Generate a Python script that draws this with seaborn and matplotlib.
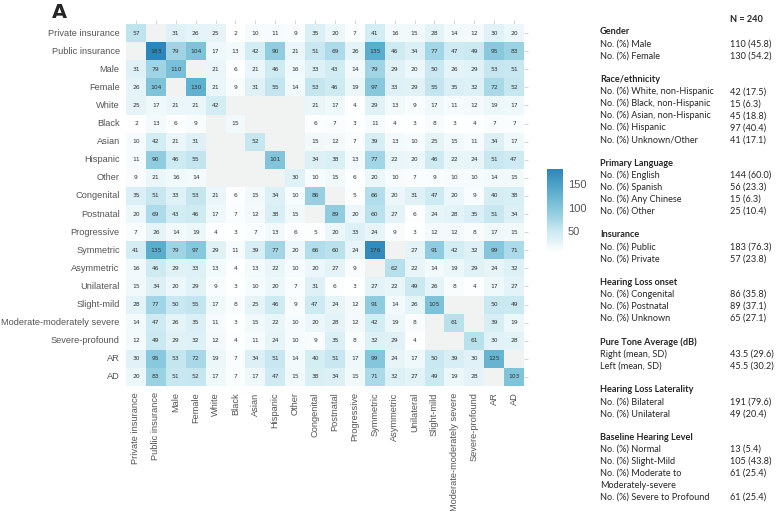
import numpy as np
import pandas as pd
import matplotlib
matplotlib.use("Agg")
import matplotlib.pyplot as plt
import seaborn as sns
from matplotlib.colors import LinearSegmentedColormap

# categorie (righe = colonne)
labels = ["Private insurance", "Public insurance", "Male", "Female", "White", "Black",
          "Asian", "Hispanic", "Other", "Congenital", "Postnatal", "Progressive",
          "Symmetric", "Asymmetric", "Unilateral", "Slight-mild",
          "Moderate-moderately severe", "Severe-profound", "AR", "AD"]

na = np.nan
r_private = [57, na, 31, 26, 25, 2, 10, 11, 9, 35, 20, 7, 41, 16, 15, 28, 14, 12, 30, 20]
r_public = [na, 183, 79, 104, 17, 13, 42, 90, 21, 51, 69, 26, 135, 46, 34, 77, 47, 49, 95, 83]
r_male = [31, 79, 110, na, 21, 6, 21, 46, 16, 33, 43, 14, 79, 29, 20, 50, 26, 29, 53, 51]
r_female = [26, 104, na, 130, 21, 9, 31, 55, 14, 53, 46, 19, 97, 33, 29, 55, 35, 32, 72, 52]
r_white = [25, 17, 21, 21, 42, na, na, na, na, 21, 17, 4, 29, 13, 9, 17, 11, 12, 19, 17]
r_black = [2, 13, 6, 9, na, 15, na, na, na, 6, 7, 3, 11, 4, 3, 8, 3, 4, 7, 7]
r_asian = [10, 42, 21, 31, na, na, 52, na, na, 15, 12, 7, 39, 13, 10, 25, 15, 11, 34, 17]
r_hispanic = [11, 90, 46, 55, na, na, na, 101, na, 34, 38, 13, 77, 22, 20, 46, 22, 24, 51, 47]
r_other = [9, 21, 16, 14, na, na, na, na, 30, 10, 15, 6, 20, 10, 7, 9, 10, 10, 14, 15]
r_congenital = [35, 51, 33, 53, 21, 6, 15, 34, 10, 86, na, 5, 66, 20, 31, 47, 20, 9, 40, 38]
r_postnatal = [20, 69, 43, 46, 17, 7, 12, 38, 15, na, 89, 20, 60, 27, 6, 24, 28, 35, 51, 34]
r_progressive = [7, 26, 14, 19, 4, 3, 7, 13, 6, 5, 20, 33, 24, 9, 3, 12, 12, 8, 17, 15]
r_symmetric = [41, 135, 79, 97, 29, 11, 39, 77, 20, 66, 60, 24, 176, na, 27, 91, 42, 32, 99, 71]
r_asymmetric = [16, 46, 29, 33, 13, 4, 13, 22, 10, 20, 27, 9, na, 62, 22, 14, 19, 29, 24, 32]
r_unilateral = [15, 34, 20, 29, 9, 3, 10, 20, 7, 31, 6, 3, 27, 22, 49, 26, 8, 4, 17, 27]
r_slight = [28, 77, 50, 55, 17, 8, 25, 46, 9, 47, 24, 12, 91, 14, 26, 105, na, na, 50, 49]
r_moderate = [14, 47, 26, 35, 11, 3, 15, 22, 10, 20, 28, 12, 42, 19, 8, na, 61, na, 39, 19]
r_severe = [12, 49, 29, 32, 12, 4, 11, 24, 10, 9, 35, 8, 32, 29, 4, na, na, 61, 30, 28]
r_ar = [30, 95, 53, 72, 19, 7, 34, 51, 14, 40, 51, 17, 99, 24, 17, 50, 39, 30, 125, na]
r_ad = [20, 83, 51, 52, 17, 7, 17, 47, 15, 38, 34, 15, 71, 32, 27, 49, 19, 28, na, 103]

righe = [r_private, r_public, r_male, r_female, r_white, r_black, r_asian, r_hispanic,
         r_other, r_congenital, r_postnatal, r_progressive, r_symmetric, r_asymmetric,
         r_unilateral, r_slight, r_moderate, r_severe, r_ar, r_ad]

# tabella a destra
sezioni = [
    ("Gender", [("No. (%) Male", "110 (45.8)"), ("No. (%) Female", "130 (54.2)")]),
    ("Race/ethnicity", [("No. (%) White, non-Hispanic", "42 (17.5)"),
                        ("No. (%) Black, non-Hispanic", "15 (6.3)"),
                        ("No. (%) Asian, non-Hispanic", "45 (18.8)"),
                        ("No. (%) Hispanic", "97 (40.4)"),
                        ("No. (%) Unknown/Other", "41 (17.1)")]),
    ("Primary Language", [("No. (%) English", "144 (60.0)"), ("No. (%) Spanish", "56 (23.3)"),
                          ("No. (%) Any Chinese", "15 (6.3)"), ("No. (%) Other", "25 (10.4)")]),
    ("Insurance", [("No. (%) Public", "183 (76.3)"), ("No. (%) Private", "57 (23.8)")]),
    ("Hearing Loss onset", [("No. (%) Congenital", "86 (35.8)"), ("No. (%) Postnatal", "89 (37.1)"),
                            ("No. (%) Unknown", "65 (27.1)")]),
    ("Pure Tone Average (dB)", [("Right (mean, SD)", "43.5 (29.6)"), ("Left (mean, SD)", "45.5 (30.2)")]),
    ("Hearing Loss Laterality", [("No. (%) Bilateral", "191 (79.6)"), ("No. (%) Unilateral", "49 (20.4)")]),
    ("Baseline Hearing Level", [("No. (%) Normal", "13 (5.4)"), ("No. (%) Slight-Mild", "105 (43.8)"),
                                ("No. (%) Moderate to", "61 (25.4)"), ("Moderately-severe", ""),
                                ("No. (%) Severe to Profound", "61 (25.4)")]),
]

df = pd.DataFrame(righe, index=labels, columns=labels)

sns.set_style("white")
plt.rcParams["font.family"] = ["Liberation Sans", "DejaVu Sans"]

W, H = 777, 511
fig = plt.figure(figsize=(W / 100, H / 100), dpi=100)
ax = fig.add_axes([126 / W, 1 - 386 / H, 398 / W, 362 / H])
cax = fig.add_axes([547 / W, 1 - 253 / H, 16 / W, 84 / H])

cmap = LinearSegmentedColormap.from_list("azz", ["#ffffff", "#cdeaf2", "#8ccbde", "#58abcc", "#2d86b9"])
ax.set_facecolor("#f1f2f2")
sns.heatmap(df, ax=ax, cmap=cmap, annot=True, fmt=".0f", cbar_ax=cax,
            annot_kws={"fontsize": 4.3, "color": "#333333", "family": "DejaVu Sans"},
            linewidths=0)
ax.tick_params(axis="both", colors="#cccccc", length=3, width=0.6, labelcolor="#555555",
               labelsize=6.7, pad=1.5, top=True, right=True)
ax.set_xticklabels(labels, rotation=90)
ax.set_yticklabels(labels, rotation=0)

cax.tick_params(labelsize=8, labelcolor="#555555", length=0)
cax.set_yticks([50, 100, 150])
for s in cax.spines.values():
    s.set_visible(False)

fig.text(52 / W, 1 - 13 / H, "A", fontsize=14, fontweight="bold", family="DejaVu Sans", va="center")

# tabella
fs = 6.6
xl, xv = 600 / W, 730 / W
fig.text(xv, 1 - 19 / H, "N = 240", fontsize=fs, fontweight="bold", va="center", family="Lato")
y = 32
for titolo, voci in sezioni:
    fig.text(xl, 1 - y / H, titolo, fontsize=fs, fontweight="bold", va="center", family="Lato")
    y += 12.0
    for nome, val in voci:
        fig.text(xl, 1 - y / H, nome, fontsize=fs, va="center", family="Lato")
        fig.text(xv, 1 - y / H, val, fontsize=fs, va="center", family="Lato")
        y += 12.0
    y += 11.6

fig.savefig("out.png", dpi=100)
